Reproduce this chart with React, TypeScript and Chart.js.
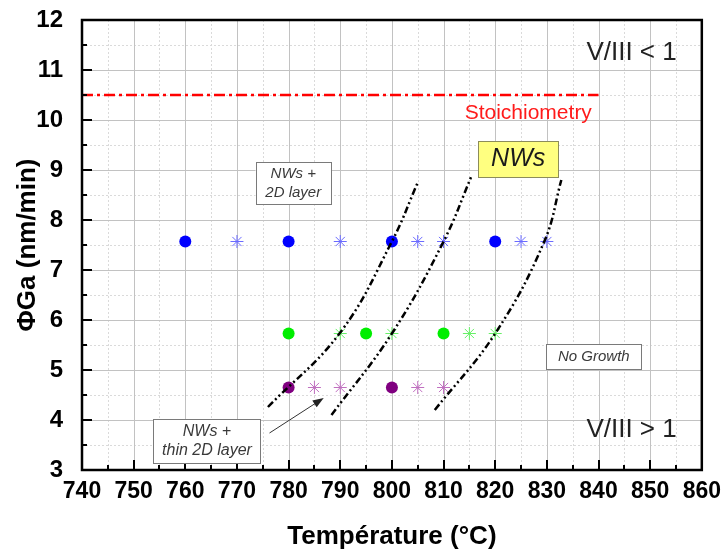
import React, { useEffect, useRef } from "react";
import { Chart, registerables } from "chart.js";

Chart.register(...registerables);

// ---- data ----
const phiBlue = 7.57;
const phiGreen = 5.73;
const phiPurple = 4.65;

const blueDotsT = [760, 780, 800, 820];
const blueStarsT = [770, 790, 805, 810, 825, 830];
const greenDotsT = [780, 795, 810];
const greenStarsT = [790, 800, 815, 820];
const purpleDotsT = [780, 800];
const purpleStarsT = [785, 790, 805, 810];

const curveA_T = [776, 790, 800, 805];
const curveA_Phi = [4.26, 5.75, 7.57, 8.75];
const curveB_T = [788.3, 800, 810, 815.5];
const curveB_Phi = [4.1, 5.73, 7.57, 8.9];
const curveC_T = [808.3, 820, 829.5, 832.8];
const curveC_Phi = [4.2, 5.73, 7.57, 8.8];

const stoichT = [740, 840];
const stoichPhi = [10.5, 10.5];

const xMin = 740, xMax = 860, xStep = 10;
const yMin = 3, yMax = 12, yStep = 1;

// annotation anchors (data coordinates)
const boxNW2D = { t0: 773.6, t1: 788.2, p0: 9.16, p1: 8.32, lines: ["NWs +", "2D layer"] };
const boxThin = { t0: 753.8, t1: 774.6, p0: 4.02, p1: 3.14, lines: ["NWs +", "thin 2D layer"] };
const boxNoGrowth = { t0: 829.9, t1: 848.3, p0: 5.52, p1: 5.02, lines: ["No Growth"] };
const boxNWs = { t0: 816.7, t1: 832.2, p0: 9.58, p1: 8.86, lines: ["NWs"] };
const arrowFrom = { t: 776.3, p: 3.74 };
const arrowTo = { t: 786.8, p: 4.44 };

const FONT = "'Liberation Sans', Arial, Helvetica, sans-serif";

const pts = (ts: number[], p: number) => ts.map((t) => ({ x: t, y: p }));
const curve = (ts: number[], ps: number[]) => ts.map((t, i) => ({ x: t, y: ps[i] }));

const drawPlugin = {
  id: "decor",
  beforeDatasetsDraw(chart: any) {
    const { ctx, chartArea: a, scales } = chart;
    const x = scales.x, y = scales.y;
    ctx.save();
    ctx.lineWidth = 1;
    // minor dotted grid
    ctx.strokeStyle = "#dadada";
    ctx.setLineDash([2, 2]);
    for (let v = xMin + xStep / 2; v < xMax; v += xStep) {
      const px = Math.round(x.getPixelForValue(v)) + 0.5;
      ctx.beginPath(); ctx.moveTo(px, a.top); ctx.lineTo(px, a.bottom); ctx.stroke();
    }
    for (let v = yMin + yStep / 2; v < yMax; v += yStep) {
      const py = Math.round(y.getPixelForValue(v)) + 0.5;
      ctx.beginPath(); ctx.moveTo(a.left, py); ctx.lineTo(a.right, py); ctx.stroke();
    }
    // major solid grid
    ctx.setLineDash([]);
    ctx.strokeStyle = "#c2c2c2";
    x.ticks.forEach((tk: any) => {
      const px = Math.round(x.getPixelForValue(tk.value)) + 0.5;
      ctx.beginPath(); ctx.moveTo(px, a.top); ctx.lineTo(px, a.bottom); ctx.stroke();
    });
    y.ticks.forEach((tk: any) => {
      const py = Math.round(y.getPixelForValue(tk.value)) + 0.5;
      ctx.beginPath(); ctx.moveTo(a.left, py); ctx.lineTo(a.right, py); ctx.stroke();
    });
    ctx.restore();
  },
  afterDatasetsDraw(chart: any) {
    const { ctx, chartArea: a, scales } = chart;
    const x = scales.x, y = scales.y;
    ctx.save();
    // ticks (inward)
    ctx.strokeStyle = "#000";
    ctx.lineWidth = 2;
    for (let v = xMin; v <= xMax + 1e-6; v += xStep / 2) {
      const major = Math.abs(((v - xMin) / xStep) - Math.round((v - xMin) / xStep)) < 1e-6;
      const px = Math.round(x.getPixelForValue(v));
      ctx.beginPath(); ctx.moveTo(px, a.bottom); ctx.lineTo(px, a.bottom - (major ? 10 : 5)); ctx.stroke();
    }
    for (let v = yMin; v <= yMax + 1e-6; v += yStep / 2) {
      const major = Math.abs(v - Math.round(v)) < 1e-6;
      const py = Math.round(y.getPixelForValue(v));
      ctx.beginPath(); ctx.moveTo(a.left, py); ctx.lineTo(a.left + (major ? 10 : 5), py); ctx.stroke();
    }
    // frame
    ctx.lineWidth = 2.5;
    ctx.strokeRect(a.left, a.top, a.right - a.left, a.bottom - a.top);

    const X = (t: number) => x.getPixelForValue(t);
    const Y = (p: number) => y.getPixelForValue(p);

    const box = (b: any, fill: string, stroke: string, font: string, color: string, lh: number) => {
      const l = X(b.t0), r = X(b.t1), t = Y(b.p0), bo = Y(b.p1);
      ctx.fillStyle = fill;
      ctx.fillRect(l, t, r - l, bo - t);
      ctx.strokeStyle = stroke;
      ctx.lineWidth = 1;
      ctx.strokeRect(Math.round(l) + 0.5, Math.round(t) + 0.5, Math.round(r - l), Math.round(bo - t));
      ctx.fillStyle = color;
      ctx.font = font;
      ctx.textAlign = "center";
      ctx.textBaseline = "middle";
      const cx = (l + r) / 2, cy = (t + bo) / 2;
      const n = b.lines.length;
      b.lines.forEach((s: string, i: number) => {
        ctx.fillText(s, cx, cy + (i - (n - 1) / 2) * lh);
      });
    };

    box(boxNW2D, "#ffffff", "#7a7a7a", `italic 15px ${FONT}`, "#3a3a3a", 19);
    box(boxThin, "#ffffff", "#7a7a7a", `italic 16px ${FONT}`, "#3a3a3a", 19);
    box(boxNoGrowth, "#ffffff", "#7a7a7a", `italic 15px ${FONT}`, "#3a3a3a", 19);
    box(boxNWs, "#ffff80", "#8c8c5a", `italic 25px ${FONT}`, "#1a1a1a", 25);

    // arrow
    const x0 = X(arrowFrom.t), y0 = Y(arrowFrom.p), x1 = X(arrowTo.t), y1 = Y(arrowTo.p);
    const ang = Math.atan2(y1 - y0, x1 - x0);
    ctx.strokeStyle = "#333";
    ctx.fillStyle = "#222";
    ctx.lineWidth = 1;
    ctx.beginPath(); ctx.moveTo(x0, y0); ctx.lineTo(x1 - 8 * Math.cos(ang), y1 - 8 * Math.sin(ang)); ctx.stroke();
    ctx.beginPath();
    ctx.moveTo(x1, y1);
    ctx.lineTo(x1 - 11 * Math.cos(ang) + 4 * Math.sin(ang), y1 - 11 * Math.sin(ang) - 4 * Math.cos(ang));
    ctx.lineTo(x1 - 11 * Math.cos(ang) - 4 * Math.sin(ang), y1 - 11 * Math.sin(ang) + 4 * Math.cos(ang));
    ctx.closePath(); ctx.fill();

    // texts
    ctx.textAlign = "center";
    ctx.textBaseline = "middle";
    ctx.fillStyle = "#222";
    ctx.font = `26px ${FONT}`;
    ctx.fillText("V/III < 1", X(846.4), Y(11.34));
    ctx.fillText("V/III > 1", X(846.4), Y(3.8));
    ctx.fillStyle = "#ff1a1a";
    ctx.font = `21px ${FONT}`;
    ctx.fillText("Stoichiometry", X(826.4), Y(10.14));
    ctx.restore();
  },
};

export default function App() {
  const ref = useRef<HTMLCanvasElement | null>(null);
  useEffect(() => {
    if (!ref.current) return;
    const curveStyle = {
      type: "scatter" as const,
      showLine: true,
      borderColor: "#000",
      borderWidth: 2.5,
      borderDash: [7, 3, 2, 3, 2, 3],
      pointRadius: 0,
      tension: 0.4,
      fill: false,
    };
    const chart = new Chart(ref.current, {
      type: "scatter",
      data: {
        datasets: [
          { ...curveStyle, data: curve(curveA_T, curveA_Phi) },
          { ...curveStyle, data: curve(curveB_T, curveB_Phi) },
          { ...curveStyle, data: curve(curveC_T, curveC_Phi) },
          { data: pts(blueDotsT, phiBlue), pointStyle: "circle", pointRadius: 6, backgroundColor: "#0000ff", borderColor: "#0000ff", borderWidth: 0 },
          { data: pts(blueStarsT, phiBlue), pointStyle: "star", pointRadius: 6.5, borderColor: "#6b6bff", backgroundColor: "#6b6bff", borderWidth: 1 },
          { data: pts(greenDotsT, phiGreen), pointStyle: "circle", pointRadius: 6, backgroundColor: "#00ee00", borderColor: "#00ee00", borderWidth: 0 },
          { data: pts(greenStarsT, phiGreen), pointStyle: "star", pointRadius: 6.5, borderColor: "#66f066", backgroundColor: "#66f066", borderWidth: 1 },
          { data: pts(purpleDotsT, phiPurple), pointStyle: "circle", pointRadius: 6, backgroundColor: "#800080", borderColor: "#800080", borderWidth: 0 },
          { data: pts(purpleStarsT, phiPurple), pointStyle: "star", pointRadius: 6.5, borderColor: "#c070c0", backgroundColor: "#c070c0", borderWidth: 1 },
          {
            data: curve(stoichT, stoichPhi),
            showLine: true,
            borderColor: "#ff0000",
            borderWidth: 2.5,
            borderDash: [11, 4, 3, 4],
            pointRadius: 0,
          },
        ],
      },
      options: {
        responsive: false,
        animation: false,
        events: [],
        layout: { padding: { top: 20, right: 17, left: 0, bottom: 0 } },
        plugins: { legend: { display: false }, tooltip: { enabled: false } },
        scales: {
          x: {
            type: "linear",
            min: xMin,
            max: xMax,
            grid: { display: false },
            border: { display: false },
            ticks: { stepSize: xStep, color: "#000", padding: 0, font: { family: FONT, size: 23, weight: "bold" } },
            title: {
              display: true,
              text: "Température (°C)",
              color: "#000",
              font: { family: FONT, size: 26, weight: "bold", lineHeight: 1 },
              padding: { top: 0, bottom: 0 },
            },
            afterFit: (s: any) => { s.height = 80; },
          },
          y: {
            type: "linear",
            min: yMin,
            max: yMax,
            grid: { display: false },
            border: { display: false },
            ticks: { stepSize: yStep, color: "#000", padding: 11, font: { family: FONT, size: 24, weight: "bold" } },
            title: {
              display: true,
              text: "ΦGa (nm/min)",
              color: "#000",
              font: { family: FONT, size: 26, weight: "bold", lineHeight: 1 },
              padding: { top: 15, bottom: 0 },
            },
            afterFit: (s: any) => { s.width = 82; s.paddingTop = 0; s.paddingBottom = 0; },
          },
        },
      },
      plugins: [drawPlugin],
    } as any);
    return () => chart.destroy();
  }, []);
  return (
    <div style={{ position: "fixed", left: 0, top: 0, width: 721, height: 550, background: "#fff" }}>
      <canvas ref={ref} width={721} height={550} style={{ width: 721, height: 550 }} />
    </div>
  );
}
